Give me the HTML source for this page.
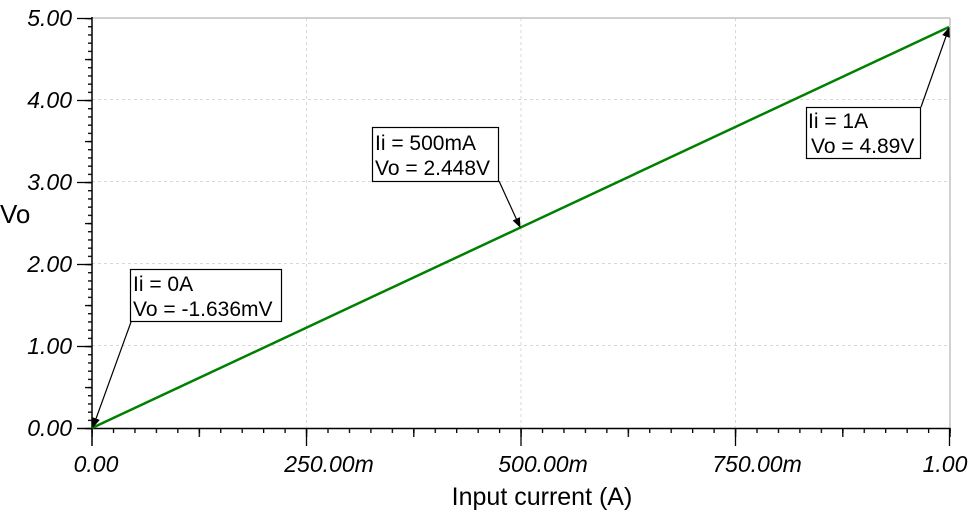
<!DOCTYPE html>
<html><head><meta charset="utf-8"><style>
html,body{margin:0;padding:0;background:#fff;}
svg{display:block;font-family:"Liberation Sans",sans-serif;}
</style></head><body>
<svg width="976" height="515" xmlns="http://www.w3.org/2000/svg">
<defs>
<marker id="ah" markerWidth="10" markerHeight="10" refX="9" refY="5" orient="auto" markerUnits="userSpaceOnUse"><path d="M0,1 L10,5 L0,9 z" fill="#000"/></marker>
<pattern id="py" patternUnits="userSpaceOnUse" x="0" y="427.9" width="20" height="8.2"><rect x="0" y="0" width="20" height="1.3" fill="#000"/></pattern>
<pattern id="pym" patternUnits="userSpaceOnUse" x="0" y="427.9" width="20" height="41"><rect x="0" y="0" width="20" height="1.3" fill="#000"/></pattern>
<pattern id="px" patternUnits="userSpaceOnUse" x="91.4" y="0" width="21.45" height="20"><rect x="0" y="0" width="1.3" height="20" fill="#000"/></pattern>
<pattern id="pxm" patternUnits="userSpaceOnUse" x="91.4" y="0" width="107.25" height="20"><rect x="0" y="0" width="1.3" height="20" fill="#000"/></pattern>
</defs>
<g stroke="#d8d8d8" stroke-dasharray="3,3" stroke-width="1">
<line x1="92" y1="99.5" x2="950" y2="99.5"/><line x1="92" y1="181.5" x2="950" y2="181.5"/><line x1="92" y1="263.5" x2="950" y2="263.5"/><line x1="92" y1="345.5" x2="950" y2="345.5"/>
<line x1="306.5" y1="18" x2="306.5" y2="428"/><line x1="521" y1="18" x2="521" y2="428"/><line x1="735.5" y1="18" x2="735.5" y2="428"/>
</g>
<g stroke="#c0c0c0" stroke-width="1.5"><line x1="92" y1="18" x2="950" y2="18"/><line x1="950" y1="18" x2="950" y2="428"/></g>
<rect x="88" y="18" width="4" height="412" fill="url(#py)"/>
<rect x="85" y="18" width="7" height="412" fill="url(#pym)"/>
<rect x="91" y="428" width="860" height="5" fill="url(#px)"/>
<rect x="91" y="428" width="860" height="9" fill="url(#pxm)"/>
<g stroke="#000" stroke-width="1.3">
<line x1="77" y1="18.5" x2="92" y2="18.5"/><line x1="77" y1="100.5" x2="92" y2="100.5"/><line x1="77" y1="182.5" x2="92" y2="182.5"/><line x1="77" y1="264.5" x2="92" y2="264.5"/><line x1="77" y1="346.5" x2="92" y2="346.5"/>
<line x1="306.5" y1="428" x2="306.5" y2="446"/><line x1="521" y1="428" x2="521" y2="446"/><line x1="735.5" y1="428" x2="735.5" y2="446"/><line x1="949.5" y1="428" x2="949.5" y2="446"/>
</g>
<line x1="92" y1="17" x2="92" y2="446" stroke="#000" stroke-width="1.5"/>
<line x1="77" y1="428.5" x2="950" y2="428.5" stroke="#000" stroke-width="1.5"/>
<line x1="92" y1="428" x2="949" y2="27" stroke="#008000" stroke-width="2.5"/>
<g font-style="italic" font-size="23" fill="#000" text-anchor="end">
<text x="72" y="26">5.00</text><text x="72" y="108">4.00</text><text x="72" y="190">3.00</text><text x="72" y="272">2.00</text><text x="72" y="354">1.00</text><text x="72" y="436">0.00</text>
</g>
<g font-style="italic" font-size="23" fill="#000" text-anchor="middle">
<text x="96" y="472">0.00</text><text x="329" y="472">250.00m</text><text x="543" y="472">500.00m</text><text x="757" y="472">750.00m</text><text x="945" y="472">1.00</text>
</g>
<text x="0" y="223" font-size="26">Vo</text>
<text x="542" y="505" font-size="25" text-anchor="middle">Input current (A)</text>
<g stroke="#000" stroke-width="1.2" fill="none">
<line x1="131" y1="322" x2="93" y2="427" marker-end="url(#ah)"/>
<line x1="499" y1="181" x2="520" y2="227" marker-end="url(#ah)"/>
<line x1="921" y1="107" x2="949" y2="28" marker-end="url(#ah)"/>
<rect x="130.5" y="269.5" width="151" height="52" fill="#fff"/>
<rect x="372.5" y="127.5" width="126" height="54" fill="#fff"/>
<rect x="806.5" y="107.5" width="114" height="51" fill="#fff"/>
</g>
<g font-size="21" fill="#000">
<text x="133" y="291">Ii = 0A</text><text x="133" y="316">Vo = -1.636mV</text>
<text x="375" y="150">Ii = 500mA</text><text x="375" y="175">Vo = 2.448V</text>
<text x="808" y="128">Ii = 1A</text><text x="811" y="153">Vo = 4.89V</text>
</g>
</svg>
</body></html>
